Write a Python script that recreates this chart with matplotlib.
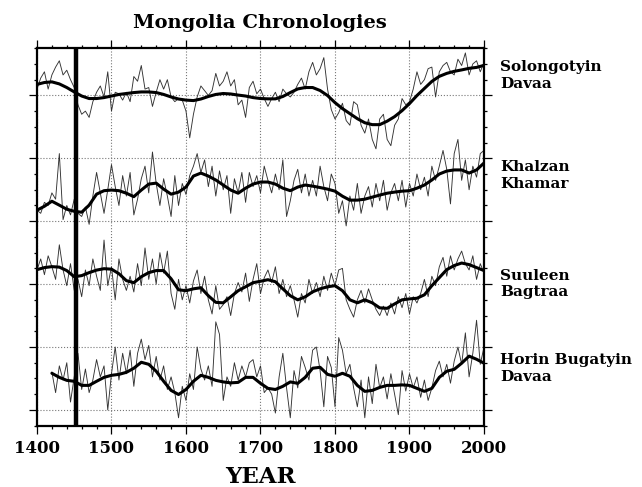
import matplotlib
matplotlib.use("Agg")
import matplotlib.pyplot as plt
import numpy as np

# -----------------------------------
# DATA (index units, one minor tick = 1)
# -----------------------------------

smooth_years = list(range(1400, 2001, 10))
annual_years = list(range(1400, 2001, 5))
horin_smooth_years = list(range(1420, 2001, 10))
horin_annual_years = list(range(1420, 2001, 5))

solongotyin_smooth = [
    21.70, 21.82, 21.86, 21.73, 21.50, 21.22, 20.96, 20.80, 20.80, 20.86,
    20.96, 21.06, 21.12, 21.18, 21.22, 21.22, 21.18, 21.06, 20.90, 20.77,
    20.70, 20.67, 20.77, 20.93, 21.06, 21.12, 21.09, 21.02, 20.96, 20.86,
    20.80, 20.78, 20.78, 20.93, 21.18, 21.41, 21.50, 21.50, 21.31, 20.99,
    20.54, 20.16, 19.84, 19.52, 19.26, 19.14, 19.14, 19.36, 19.65, 20.03,
    20.48, 20.99, 21.44, 21.89, 22.21, 22.40, 22.53, 22.62, 22.72, 22.78,
    22.91,
]
solongotyin_annual = [
    21.4, 22.1, 22.5, 21.4, 22.3, 22.8, 23.2, 22.3, 22.6, 22.0,
    21.5, 20.4, 19.8, 20.0, 19.6, 20.6, 21.2, 21.6, 20.9, 22.5,
    20.0, 21.2, 21.1, 20.7, 21.2, 20.6, 22.2, 21.9, 22.9, 21.4,
    21.5, 20.3, 21.2, 22.0, 21.4, 22.0, 20.9, 20.6, 20.8, 20.7,
    20.0, 18.3, 19.8, 20.9, 21.6, 21.3, 21.0, 21.3, 22.4, 21.6,
    21.9, 22.5, 21.6, 22.0, 20.4, 20.7, 19.6, 21.5, 21.9, 21.1,
    21.4, 20.8, 20.3, 20.8, 21.2, 20.6, 21.4, 21.1, 20.9, 21.2,
    21.7, 22.1, 21.4, 22.5, 23.1, 22.3, 22.7, 23.4, 21.4, 20.1,
    19.5, 19.9, 20.5, 19.4, 19.1, 20.6, 20.4, 19.1, 18.6, 19.5,
    18.2, 17.6, 19.5, 19.8, 18.2, 17.8, 19.1, 19.5, 20.8, 20.4,
    20.6, 21.4, 22.5, 21.7, 22.0, 22.7, 22.8, 20.9, 22.5, 22.9,
    23.1, 22.5, 22.3, 23.3, 22.9, 23.7, 22.3, 23.0, 23.2, 22.5,
    23.1,
]

khalzan_smooth = [
    13.70, 13.95, 14.27, 14.02, 13.76, 13.63, 13.57, 14.02, 14.72, 14.94,
    14.98, 14.94, 14.78, 14.56, 14.98, 15.36, 15.42, 15.04, 14.72, 14.85,
    15.17, 15.87, 16.06, 15.87, 15.62, 15.30, 14.98, 14.78, 15.10, 15.36,
    15.49, 15.49, 15.36, 15.10, 14.94, 15.17, 15.30, 15.23, 15.14, 15.04,
    14.91, 14.59, 14.34, 14.34, 14.40, 14.53, 14.66, 14.78, 14.85, 14.91,
    14.94, 15.10, 15.30, 15.62, 16.00, 16.19, 16.26, 16.26, 16.06, 16.26,
    16.70,
]
khalzan_annual = [
    13.7, 13.5, 14.2, 14.0, 14.8, 14.4, 17.3, 13.1, 14.0, 13.4,
    14.4, 13.5, 13.3, 13.9, 12.8, 14.6, 16.1, 14.8, 13.5, 15.0,
    16.6, 15.2, 14.0, 15.9, 14.6, 16.1, 13.4, 14.4, 15.7, 16.5,
    14.8, 17.4, 15.4, 14.0, 15.7, 14.6, 13.3, 15.9, 14.0, 15.4,
    14.7, 15.9, 16.5, 17.3, 16.1, 16.9, 15.2, 16.5, 14.6, 16.2,
    15.0, 15.9, 13.5, 15.7, 14.8, 16.1, 14.2, 16.1, 15.2, 15.9,
    14.8, 16.5, 15.6, 14.8, 16.0, 15.0, 16.9, 13.3, 14.3, 15.6,
    16.3, 14.8, 16.0, 14.6, 15.6, 14.6, 16.5, 15.2, 14.3, 16.0,
    15.4, 13.5, 14.3, 12.7, 14.6, 13.7, 15.4, 13.5, 14.6, 15.2,
    13.9, 15.4, 14.3, 15.6, 13.7, 14.8, 15.4, 14.3, 15.6, 13.9,
    15.4, 14.6, 16.0, 15.0, 15.8, 14.6, 16.5, 15.6, 16.5, 17.5,
    16.3, 14.1, 17.3, 18.2, 15.6, 16.9, 15.0, 16.5, 15.8, 17.3,
    17.5,
]

suuleen_smooth = [
    9.92, 10.05, 10.11, 10.08, 9.86, 9.47, 9.54, 9.73, 9.89, 9.98,
    9.95, 9.66, 9.22, 9.09, 9.47, 9.73, 9.86, 9.86, 9.34, 8.64,
    8.58, 8.70, 8.77, 8.26, 7.84, 7.81, 8.19, 8.58, 8.83, 9.09,
    9.18, 9.28, 9.15, 8.70, 8.26, 8.00, 8.19, 8.51, 8.70, 8.83,
    8.90, 8.58, 8.00, 7.81, 8.00, 7.81, 7.49, 7.46, 7.74, 8.00,
    8.06, 8.10, 8.32, 8.90, 9.41, 9.92, 10.18, 10.34, 10.24, 10.05,
    9.86,
]
suuleen_annual = [
    9.9, 10.6, 9.6, 10.8, 10.1, 9.3, 11.5, 9.9, 8.9, 10.3,
    8.6, 9.3, 8.2, 9.9, 8.9, 10.6, 9.5, 8.6, 11.8, 8.9,
    10.1, 8.0, 10.6, 9.3, 8.6, 9.5, 8.5, 10.3, 8.9, 11.3,
    9.3, 10.6, 9.0, 11.0, 9.7, 11.1, 8.4, 7.4, 9.3, 8.0,
    8.9, 7.8, 9.2, 9.9, 8.4, 9.5, 8.0, 7.1, 8.9, 7.4,
    7.7, 8.2, 7.0, 8.4, 9.1, 8.5, 9.7, 7.9, 9.3, 10.3,
    8.4, 9.4, 9.9, 9.1, 10.1, 8.4, 9.3, 8.2, 8.9, 8.0,
    6.9, 8.4, 7.8, 9.3, 8.4, 9.1, 8.2, 9.5, 8.6, 9.7,
    8.9, 9.9, 10.0, 8.0, 7.4, 6.9, 8.0, 8.6, 7.8, 8.7,
    8.0, 7.4, 7.0, 7.6, 7.0, 7.8, 7.1, 8.2, 7.5, 8.4,
    7.1, 8.2, 7.8, 8.4, 9.3, 8.2, 9.5, 8.9, 10.1, 10.7,
    9.5, 10.8, 9.9, 10.6, 11.1, 10.3, 9.9, 10.8, 9.3, 10.3,
    9.7,
]

horin_smooth = [
    3.33, 3.07, 2.88, 2.82, 2.56, 2.56, 2.82, 3.07,
    3.20, 3.26, 3.39, 3.65, 4.03, 3.90, 3.46, 2.82, 2.24, 1.98,
    2.30, 2.82, 3.20, 3.07, 2.88, 2.78, 2.72, 2.75, 3.07, 3.07,
    2.69, 2.37, 2.30, 2.50, 2.78, 2.69, 3.07, 3.65, 3.71, 3.26,
    3.14, 3.33, 3.14, 2.56, 2.18, 2.24, 2.43, 2.56, 2.56, 2.59,
    2.56, 2.37, 2.18, 2.37, 3.07, 3.46, 3.58, 3.97, 4.42, 4.22,
    3.97,
]
horin_annual = [
    3.4, 2.1, 3.8, 2.9, 4.0, 1.5,
    3.1, 4.6, 2.3, 3.6, 2.1, 2.9, 4.2, 3.1, 3.8, 1.0,
    3.3, 5.0, 2.9, 4.6, 3.3, 4.8, 2.5, 4.6, 5.5, 4.2,
    5.1, 3.1, 4.4, 2.9, 3.8, 2.3, 3.1, 2.1, 0.5, 2.5,
    1.6, 3.3, 2.3, 5.0, 3.6, 2.9, 3.8, 2.5, 6.6, 5.8,
    1.6, 3.1, 2.5, 4.0, 2.9, 3.8, 3.1, 4.0, 4.2, 3.1,
    3.8, 2.1, 2.4, 2.0, 0.8, 3.1, 4.6, 2.4, 0.5, 3.5,
    2.4, 4.4, 3.7, 2.9, 4.8, 5.0, 3.5, 1.2, 4.4, 3.7,
    1.2, 5.6, 4.8, 3.3, 3.9, 2.4, 1.2, 2.9, 0.5, 3.1,
    1.4, 3.9, 2.4, 3.1, 1.7, 3.3, 2.0, 0.7, 3.5, 2.2,
    3.3, 2.4, 3.1, 1.8, 2.9, 1.6, 2.4, 3.5, 4.1, 3.1,
    3.9, 2.7, 4.1, 5.0, 3.9, 5.9, 3.1, 4.6, 6.7, 3.9,
    5.0,
]

site_names = [
    "Solongotyin\nDavaa",
    "Khalzan\nKhamar",
    "Suuleen\nBagtraa",
    "Horin Bugatyin\nDavaa",
]
site_label_y = [22.25, 15.9, 9.0, 3.65]

marker_year = 1452

# -----------------------------------
# FIGURE
# -----------------------------------

serif_bold = {"family": "DejaVu Serif", "weight": "bold"}

fig = plt.figure(figsize=(6.42, 4.87), dpi=100)
ax = fig.add_axes([0.0576, 0.126, 0.6963, 0.775])

series = [
    (annual_years, solongotyin_annual, smooth_years, solongotyin_smooth),
    (annual_years, khalzan_annual, smooth_years, khalzan_smooth),
    (annual_years, suuleen_annual, smooth_years, suuleen_smooth),
    (horin_annual_years, horin_annual, horin_smooth_years, horin_smooth),
]

for yrs, annual, s_yrs, smooth in series:
    ax.plot(yrs, annual, color="#333333", lw=0.65, zorder=2)
    ax.plot(s_yrs, smooth, color="black", lw=2.2, zorder=3,
            solid_capstyle="round", solid_joinstyle="round")

# -----------------------------------
# MARKER LINE
# -----------------------------------

ax.axvline(marker_year, color="black", lw=3.2, zorder=4)

# -----------------------------------
# AXES
# -----------------------------------

ax.set_xlim(1400, 2000)
ax.set_ylim(0, 24)

ax.set_xticks(range(1400, 2001, 100))
ax.set_xticks(range(1400, 2001, 20), minor=True)
ax.set_yticks([1, 5, 9, 13, 17, 21])
ax.set_yticks(range(0, 25), minor=True)

ax.tick_params(which="both", direction="out", top=True, right=True,
               labelleft=False, width=0.9)
ax.tick_params(which="major", length=6)
ax.tick_params(which="minor", length=2.5)
ax.tick_params(axis="x", which="major", pad=4)

for lab in ax.get_xticklabels():
    lab.set_fontfamily("DejaVu Serif")
    lab.set_fontweight("bold")
    lab.set_fontsize(12)

ax.grid(which="major", linestyle=":", color="#777777", lw=0.8)

for sp in ax.spines.values():
    sp.set_linewidth(1.6)

# -----------------------------------
# SITE LABELS
# -----------------------------------

for name, yv in zip(site_names, site_label_y):
    ax.text(2022, yv, name, ha="left", va="center", fontsize=11,
            linespacing=1.25, clip_on=False, **serif_bold)

# -----------------------------------
# TITLE + X LABEL
# -----------------------------------

fig.text(0.405, 0.952, "Mongolia Chronologies", ha="center", va="center",
         fontsize=14, **serif_bold)
fig.text(0.405, 0.009, "YEAR", ha="center", va="baseline",
         fontsize=16.5, **serif_bold)

fig.savefig("out.png", dpi=100)
